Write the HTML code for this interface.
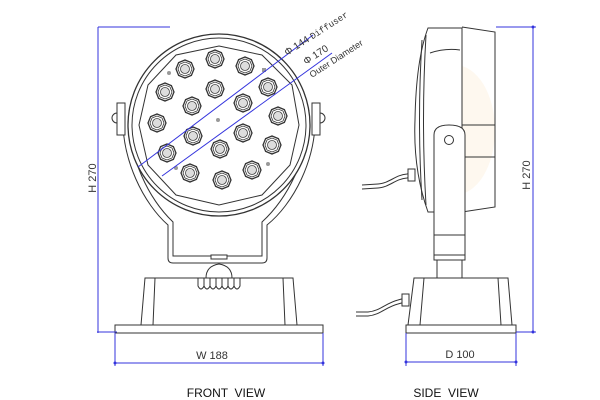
<!DOCTYPE html>
<html><head><meta charset="utf-8"><style>
html,body{margin:0;padding:0;background:#fff}
svg{display:block}
text{font-family:"Liberation Sans",sans-serif}
</style></head><body>
<svg width="600" height="400" viewBox="0 0 600 400" xmlns="http://www.w3.org/2000/svg">
<defs>
<g id="led"><polygon points="9,0 6.4,6.4 0,9 -6.4,6.4 -9,0 -6.4,-6.4 0,-9 6.4,-6.4" fill="#fff" stroke="#333" stroke-width="1.3"/><polygon points="7,0 5,5 0,7 -5,5 -7,0 -5,-5 0,-7 5,-5" fill="none" stroke="#333" stroke-width="0.8"/><circle r="4.5" fill="#ddd" stroke="#444" stroke-width="0.8"/></g>
</defs>
<!-- watermark -->
<ellipse cx="225" cy="130" rx="45" ry="60" fill="#fdf4e4" opacity="0.8"/>
<ellipse cx="455" cy="130" rx="40" ry="65" fill="#fdf4e4" opacity="0.6"/>

<g fill="none" stroke="#333" stroke-width="1">
<!-- front yoke -->
<path d="M123,110 C120,160 145,205 168,225 L168,258 Q168,263 173,263 L262,263 Q267,263 267,258 L267,225 C292,205 318,160 315,110"/>
<path d="M129,110 C127,158 150,200 173,222 L173,256 L262,256 L262,222 C286,200 310,158 309,110"/>
<rect x="117" y="103" width="8" height="32" fill="#fff"/>
<rect x="312" y="103" width="8" height="32" fill="#fff"/>
<path d="M117,113 a5,5 0 0 0 0,10"/><path d="M320,113 a5,5 0 0 1 0,10"/>
<!-- head -->
<circle cx="219" cy="125" r="91" fill="#fff" stroke-width="1.3"/>
<circle cx="219" cy="125" r="87"/>
<polygon points="219,46 262,55 292,85 299,125 290,165 262,195 219,205 176,195 148,165 139,125 148,85 176,55"/>
<!-- connector under yoke -->
<rect x="211" y="255" width="16" height="4" fill="#fff"/>
<path d="M206,278 Q206,266 219,264 Q232,266 232,278"/>
<path d="M198,278 v8 q3,6 6,0 v-8 M204,278 v8 q3,6 6,0 v-8 M210,278 v8 q3,6 6,0 v-8 M216,278 v8 q3,6 6,0 v-8 M222,278 v8 q3,6 6,0 v-8 M228,278 v8 q3,6 6,0 v-8 M234,278 v8 q3,6 6,0 v-8"/>
<!-- base -->
<path d="M145,278 L293,278 L297,325 L141,325 Z"/>
<path d="M155,278 L153,325 M283,278 L285,325"/>
<rect x="115" y="325" width="208" height="8" fill="#fff"/>

<!-- side view -->
<path d="M428,28 L462,28 L462,212 L428,212 Q413,170 415,120 Q416,60 428,28 Z" fill="#fff"/>
<path d="M422,40 Q417,120 422,200 M426,35 Q421,120 426,205"/>
<path d="M430,53 Q445,48 460,50"/>
<path d="M462,27 L495,32 L495,207 L462,212"/>
<path d="M462,125 L495,125 M462,157 L495,157"/>
<path d="M434,260 L434,135 Q434,125 449,125 Q465,125 465,135 L465,260 Z" fill="#fff"/>
<circle cx="449" cy="140" r="4.5"/>
<path d="M434,235 L465,235 M434,255 L465,255"/>
<rect x="437" y="260" width="25" height="18"/>
<path d="M414,278 L508,278 L512,325 L408,325 Z"/>
<path d="M424,278 L420,325 M498,278 L501,325"/>
<rect x="406" y="325" width="110" height="8" fill="#fff"/>
<!-- cables -->
<path d="M414,172 L407,174 C395,175 390,183 378,184 L362,185"/>
<path d="M414,176 L407,178 C395,179 390,187 378,188 L362,189"/>
<rect x="408" y="169" width="7" height="12" fill="#fff"/>
<path d="M405,298 L398,300 C386,303 380,311 368,312 L356,312"/>
<path d="M405,302 L398,304 C386,307 380,315 368,316 L356,316"/>
<rect x="402" y="294" width="7" height="12" fill="#fff"/>
</g>

<!-- LEDs -->
<g>
<use href="#led" x="215" y="59"/><use href="#led" x="245" y="66"/><use href="#led" x="185" y="69"/>
<use href="#led" x="165" y="92"/><use href="#led" x="215" y="89"/><use href="#led" x="268" y="87"/>
<use href="#led" x="192" y="106"/><use href="#led" x="243" y="103"/>
<use href="#led" x="157" y="123"/><use href="#led" x="278" y="116"/>
<use href="#led" x="193" y="136"/><use href="#led" x="243" y="133"/>
<use href="#led" x="167" y="153"/><use href="#led" x="220" y="149"/><use href="#led" x="272" y="145"/>
<use href="#led" x="190" y="173"/><use href="#led" x="222" y="180"/><use href="#led" x="252" y="170"/>
</g>
<g fill="#999"><circle cx="169" cy="73" r="2"/><circle cx="218" cy="120" r="2"/><circle cx="176" cy="168" r="2"/><circle cx="268" cy="164" r="2"/><rect x="262" y="68" width="4" height="4"/></g>

<!-- dimensions -->
<g stroke="#3333dd" stroke-width="1" fill="none">
<path d="M98,27 L170,27 M98,27 L98,333 M97,332 L117,332"/>
<path d="M115,333 L115,366 M323,333 L323,366 M115,363 L323,363"/>
<path d="M496,27 L536,27 M533,27 L533,332 M516,332 L536,332"/>
<path d="M406,333 L406,366 M516,333 L516,366 M406,362 L516,362"/>
<path d="M138,167 L313,35"/>
<path d="M162,176 L332,53"/>
</g>
<g fill="#3333dd"><circle cx="115" cy="363" r="1.5"/><circle cx="323" cy="363" r="1.5"/><circle cx="406" cy="362" r="1.5"/><circle cx="516" cy="362" r="1.5"/><circle cx="533" cy="27" r="1.5"/><circle cx="533" cy="332" r="1.5"/></g>

<!-- labels -->
<g fill="#333" font-size="11">
<text x="96" y="178" transform="rotate(-90 96 178)" text-anchor="middle">H 270</text>
<text x="530" y="175" transform="rotate(-90 530 175)" text-anchor="middle">H 270</text>
<text x="212" y="359" text-anchor="middle">W 188</text>
<text x="460" y="358" text-anchor="middle">D 100</text>
<text x="287" y="56" transform="rotate(-33 287 56)" font-size="10">Φ 144 <tspan font-family="Liberation Mono" font-size="9">Diffuser</tspan></text>
<text x="306" y="65" transform="rotate(-33 306 65)" font-size="10">Φ 170</text>
<text x="312" y="78" transform="rotate(-33 312 78)" font-family="Liberation Mono" font-size="9">Outer Diameter</text>
</g>
<g fill="#111" font-size="12">
<text x="226" y="397" text-anchor="middle" xml:space="preserve">FRONT  VIEW</text>
<text x="446" y="397" text-anchor="middle" xml:space="preserve">SIDE  VIEW</text>
</g>
</svg>
</body></html>
